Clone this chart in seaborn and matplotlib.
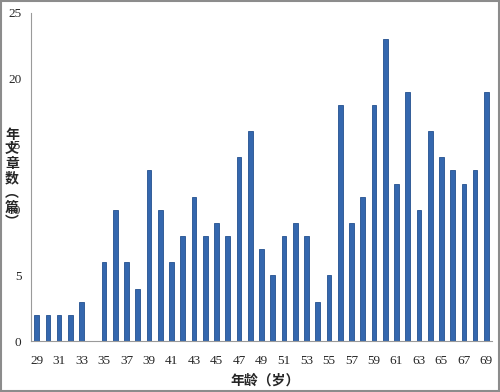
import matplotlib
matplotlib.use("Agg")
import matplotlib.pyplot as plt
import seaborn as sns
import pandas as pd
from matplotlib.patches import Rectangle

# Data
ages = list(range(29, 70))
counts = [2, 2, 2, 2, 3, 0, 6, 10, 6, 4, 13, 10, 6, 8, 11, 8, 9, 8, 14, 16,
          7, 5, 8, 9, 8, 3, 5, 18, 9, 11, 18, 23, 12, 19, 10, 16, 14, 13, 12, 13, 19]
y_ticks = [0, 5, 10, 15, 20, 25]
x_label = "年龄（岁）"
y_label_chars = ["年", "文", "章", "数", "︵", "篇", "︶"]

df = pd.DataFrame({"age": [str(a) for a in ages], "count": counts})

sns.set_style("white")
plt.rcParams["font.family"] = ["Liberation Serif", "Noto Sans CJK SC"]

fig = plt.figure(figsize=(5, 3.92), dpi=100)
ax = fig.add_axes([0.062, 0.130, 0.922, 0.837])

sns.barplot(data=df, x="age", y="count", color="#3467AE", width=0.42,
            edgecolor="#23508F", linewidth=0.6, saturation=1, ax=ax)

ax.set_ylim(0, 25)
ax.set_xlim(-0.5, len(ages) - 0.5)
ax.set_yticks(y_ticks)
ax.set_yticklabels([str(t) for t in y_ticks], fontsize=9.5)

# label every other age
ax.set_xticks(range(0, len(ages), 2))
ax.set_xticklabels([str(a) for a in ages[::2]], fontsize=9.5)
ax.set_xticks([i - 0.5 for i in range(len(ages) + 1)], minor=True)
ax.tick_params(axis="x", which="major", length=0, pad=10)
ax.tick_params(axis="x", which="minor", length=4, color="#9A9A9A", direction="out")
ax.tick_params(axis="y", length=4, color="#9A9A9A", direction="out", pad=3)
ax.set_xlabel("")
ax.set_ylabel("")

for s in ["top", "right"]:
    ax.spines[s].set_visible(False)
for s in ["left", "bottom"]:
    ax.spines[s].set_color("#9A9A9A")
    ax.spines[s].set_linewidth(0.8)

fig.text(0.53, 0.03, x_label, ha="center", va="center", fontsize=10,
         family=["Noto Sans CJK SC"], fontweight="bold")
# stacked vertical y label, as in the original (it sits over the tick labels there too)
fig.text(0.024, 0.545, "\n".join(y_label_chars), ha="center", va="center",
         fontsize=10, family=["Noto Sans CJK SC"], fontweight="bold", linespacing=1.05)

fig.patches.append(Rectangle((0.002, 0.003), 0.995, 0.994, transform=fig.transFigure,
                             fill=False, edgecolor="#8C8C8C", linewidth=1.5))

fig.savefig("out.png", dpi=100)
